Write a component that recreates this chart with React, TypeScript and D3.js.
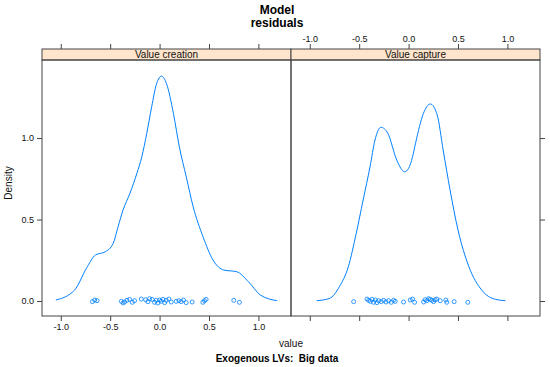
import { useRef, useEffect } from "react";
import {
  select,
  scaleLinear,
  line,
  curveMonotoneX,
  axisBottom,
  axisTop,
  axisLeft,
  axisRight,
} from "d3";

// panel names (lattice strips)
const panelNames = ["Value creation", "Value capture"];
const xTicks = [-1.0, -0.5, 0.0, 0.5, 1.0];
const yTicks = [0.0, 0.5, 1.0];

// density curve of "Value creation"
const creationX = [-1.05, -0.86, -0.74, -0.65, -0.55, -0.47, -0.42, -0.37, -0.3, -0.23, -0.18, -0.13, -0.08, -0.03, 0.02, 0.07, 0.14, 0.2, 0.27, 0.34, 0.44, 0.54, 0.65, 0.78, 0.9, 1.02, 1.19];
const creationY = [0.006, 0.067, 0.201, 0.282, 0.302, 0.353, 0.456, 0.558, 0.661, 0.783, 0.885, 1.028, 1.192, 1.334, 1.38, 1.334, 1.151, 0.946, 0.762, 0.578, 0.394, 0.252, 0.19, 0.18, 0.118, 0.037, 0.002];

// density curve of "Value capture"
const captureX = [-0.93, -0.8, -0.7, -0.61, -0.53, -0.46, -0.39, -0.34, -0.28, -0.21, -0.12, -0.04, 0.0, 0.04, 0.07, 0.15, 0.22, 0.29, 0.35, 0.42, 0.5, 0.61, 0.74, 0.88, 0.98];
const captureY = [0.002, 0.016, 0.088, 0.21, 0.415, 0.62, 0.824, 0.988, 1.066, 1.029, 0.865, 0.793, 0.814, 0.885, 0.967, 1.151, 1.209, 1.141, 0.926, 0.681, 0.436, 0.211, 0.067, 0.01, 0.002];

// residuals shown as jittered points
const creationResid = [-0.68, -0.657, -0.633, -0.387, -0.37, -0.354, -0.33, -0.303, -0.276, -0.253, -0.185, -0.141, -0.118, -0.101, -0.074, -0.051, -0.034, -0.017, 0.0, 0.017, 0.034, 0.051, 0.067, 0.094, 0.118, 0.168, 0.195, 0.219, 0.242, 0.269, 0.33, 0.438, 0.455, 0.471, 0.751, 0.808];
const creationJitter = [-0.004, 0.006, 0.002, -0.002, -0.012, -0.006, 0.004, 0.01, -0.008, 0.002, 0.012, 0.008, -0.004, 0.014, 0.01, -0.008, 0.004, -0.012, 0.006, -0.002, 0.01, -0.01, 0.004, 0.012, -0.006, -0.002, 0.002, -0.004, 0.006, -0.01, -0.006, -0.008, 0.002, 0.01, 0.004, -0.008];
const captureResid = [-0.556, -0.421, -0.404, -0.387, -0.37, -0.354, -0.337, -0.32, -0.303, -0.276, -0.253, -0.229, -0.202, -0.175, -0.152, -0.135, -0.051, 0.017, 0.04, 0.061, 0.152, 0.168, 0.185, 0.202, 0.219, 0.236, 0.253, 0.269, 0.286, 0.32, 0.377, 0.387, 0.461, 0.599];
const captureJitter = [-0.004, 0.012, 0.004, -0.002, 0.01, -0.008, 0.006, -0.01, 0.002, -0.004, 0.004, -0.006, 0.002, -0.008, 0.004, -0.002, -0.006, 0.006, 0.012, -0.008, -0.006, 0.008, 0.002, 0.014, 0.01, 0.004, -0.004, 0.008, 0.012, 0.002, 0.006, -0.008, -0.004, -0.008];

type Pt = { x: number; y: number };

function App() {
  const svgRef = useRef<SVGSVGElement | null>(null);
  const width = 550;
  const height = 367;

  useEffect(() => {
    if (!svgRef.current) return;
    const svg = select(svgRef.current);
    svg.selectAll("*").remove();

    const font = "Liberation Sans, Arial, sans-serif";
    const ink = "#444";
    const blue = "#0080ff";
    const top = 60;
    const bottom = 316;
    const stripTop = 49;
    const lefts = [42, 291];
    const panelW = 249;

    const y = scaleLinear().domain([-0.092, 1.479]).range([bottom, top]);

    const curves = [
      creationX.map((v, i) => ({ x: v, y: creationY[i] })),
      captureX.map((v, i) => ({ x: v, y: captureY[i] })),
    ];
    const rugs = [
      creationResid.map((v, i) => ({ x: v, y: creationJitter[i] })),
      captureResid.map((v, i) => ({ x: v, y: captureJitter[i] })),
    ];

    const fmt = (d: any) => (+d).toFixed(1);
    const blank = () => "";

    const styleAxis = (g: any) => {
      g.select(".domain").remove();
      g.selectAll(".tick line").attr("stroke", ink);
      g.selectAll(".tick text")
        .attr("fill", "#111")
        .attr("font-family", font)
        .attr("font-size", 9);
    };

    panelNames.forEach((name, p) => {
      const left = lefts[p];
      const x = scaleLinear().domain([-1.19, 1.33]).range([left, left + panelW]);

      // bottom axis: labels on first panel only
      svg
        .append("g")
        .attr("transform", `translate(0, ${bottom})`)
        .call(axisBottom(x).tickValues(xTicks).tickSize(5).tickPadding(3).tickFormat(p === 0 ? fmt : blank))
        .call(styleAxis);

      // top axis: labels on second panel only
      svg
        .append("g")
        .attr("transform", `translate(0, ${stripTop})`)
        .call(axisTop(x).tickValues(xTicks).tickSize(5).tickPadding(2).tickFormat(p === 1 ? fmt : blank))
        .call(styleAxis);

      if (p === 0) {
        svg
          .append("g")
          .attr("transform", `translate(${left}, 0)`)
          .call(axisLeft(y).tickValues(yTicks).tickSize(5).tickPadding(3).tickFormat(fmt))
          .call(styleAxis);
      } else {
        svg
          .append("g")
          .attr("transform", `translate(${left + panelW}, 0)`)
          .call(axisRight(y).tickValues(yTicks).tickSize(5).tickFormat(blank))
          .call(styleAxis);
      }

      // density line
      const lineFunc = line<Pt>()
        .x((d) => x(d.x))
        .y((d) => y(d.y))
        .curve(curveMonotoneX);
      svg
        .append("path")
        .attr("fill", "none")
        .attr("stroke", blue)
        .attr("stroke-width", 1)
        .attr("d", lineFunc(curves[p]));

      // jittered points
      svg
        .append("g")
        .selectAll("circle")
        .data(rugs[p])
        .join("circle")
        .attr("cx", (d) => x(d.x))
        .attr("cy", (d) => y(d.y))
        .attr("r", 2)
        .attr("fill", "none")
        .attr("stroke", blue)
        .attr("stroke-width", 0.8);

      // strip
      svg
        .append("rect")
        .attr("x", left)
        .attr("y", stripTop)
        .attr("width", panelW)
        .attr("height", top - stripTop)
        .attr("fill", "#ffe5cc")
        .attr("stroke", ink);
      svg
        .append("text")
        .attr("x", left + panelW / 2)
        .attr("y", top - 2.5)
        .attr("text-anchor", "middle")
        .attr("font-family", font)
        .attr("font-size", 10)
        .attr("fill", "#111")
        .text(name);

      // panel border
      svg
        .append("rect")
        .attr("x", left)
        .attr("y", top)
        .attr("width", panelW)
        .attr("height", bottom - top)
        .attr("fill", "none")
        .attr("stroke", ink);
    });

    // titles
    const title = svg
      .append("text")
      .attr("text-anchor", "middle")
      .attr("font-family", font)
      .attr("font-size", 12)
      .attr("font-weight", "bold")
      .attr("fill", "#000");
    title.append("tspan").attr("x", 277).attr("y", 14).text("Model");
    title.append("tspan").attr("x", 277).attr("y", 27).text("residuals");

    svg
      .append("text")
      .attr("x", 291)
      .attr("y", 347)
      .attr("text-anchor", "middle")
      .attr("font-family", font)
      .attr("font-size", 10)
      .attr("fill", "#111")
      .text("value");

    svg
      .append("text")
      .attr("x", 277)
      .attr("y", 362)
      .attr("text-anchor", "middle")
      .attr("font-family", font)
      .attr("font-size", 10)
      .attr("font-weight", "bold")
      .attr("fill", "#000")
      .style("white-space", "pre")
      .text("Exogenous LVs:  Big data");

    svg
      .append("text")
      .attr("transform", `translate(12, 183) rotate(-90)`)
      .attr("text-anchor", "middle")
      .attr("font-family", font)
      .attr("font-size", 10)
      .attr("fill", "#111")
      .text("Density");
  }, []);

  return (
    <div style={{ position: "absolute", left: 0, top: 0 }}>
      <svg
        ref={svgRef}
        width={width}
        height={height}
        viewBox={`0 0 ${width} ${height}`}
        style={{ display: "block", background: "#fff" }}
      ></svg>
    </div>
  );
}

export default App;
